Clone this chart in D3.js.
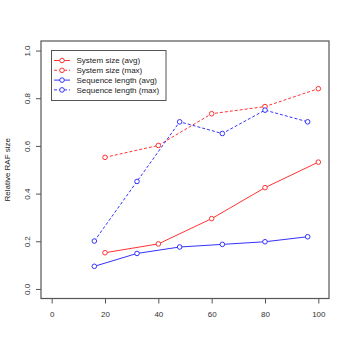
<!DOCTYPE html>
<html>
<head>
<meta charset="utf-8">
<script src="https://cdn.jsdelivr.net/npm/d3@7"></script>
<style>
  body { margin: 0; background: #fff; }
  svg { font-family: "Liberation Sans", Arial, sans-serif; }
</style>
</head>
<body>
<script>
    'use strict';

    // values
    var sysX = [20, 40, 60, 80, 100];
    var sysAvg = [0.152, 0.189, 0.295, 0.425, 0.532];
    var sysMax = [0.552, 0.602, 0.735, 0.765, 0.840];
    var seqX = [16, 32, 48, 64, 80, 96];
    var seqAvg = [0.095, 0.149, 0.176, 0.187, 0.198, 0.219];
    var seqMax = [0.201, 0.451, 0.701, 0.652, 0.750, 0.701];
    var xTicks = [0, 20, 40, 60, 80, 100];
    var yTicks = [0.0, 0.2, 0.4, 0.6, 0.8, 1.0];
    var seriesNames = ['System size (avg)', 'System size (max)',
                       'Sequence length (avg)', 'Sequence length (max)'];

    var series = [
        {name: seriesNames[0], xs: sysX, ys: sysAvg, color: '#ff3333', dash: null},
        {name: seriesNames[1], xs: sysX, ys: sysMax, color: '#ff3333', dash: '3,2'},
        {name: seriesNames[2], xs: seqX, ys: seqAvg, color: '#3333ff', dash: null},
        {name: seriesNames[3], xs: seqX, ys: seqMax, color: '#3333ff', dash: '3,2'}
    ];

    var W = 350, H = 350;
    var box = {left: 41, right: 329, top: 41, bottom: 298.5};

    var svg = d3.select('body').append('svg')
        .attr('width', W).attr('height', H);

    var scale_x = d3.scaleLinear().domain([-4, 104]).range([box.left, box.right]);
    var scale_y = d3.scaleLinear().domain([-0.04, 1.04]).range([box.bottom, box.top]);

    var axisColor = '#555';

    // x axis
    var ax = svg.append('g')
        .attr('transform', 'translate(0,' + box.bottom + ')')
        .call(d3.axisBottom(scale_x).tickValues(xTicks).tickSize(5).tickPadding(8)
              .tickFormat(d3.format('d')));
    ax.select('.domain').remove();
    ax.selectAll('line').attr('stroke', axisColor);
    ax.selectAll('text').attr('fill', '#333').style('font-size', '8px');

    // y axis, labels rotated like base R
    var ay = svg.append('g')
        .attr('transform', 'translate(' + box.left + ',0)')
        .call(d3.axisLeft(scale_y).tickValues(yTicks).tickSize(5)
              .tickFormat(d3.format('.1f')));
    ay.select('.domain').remove();
    ay.selectAll('line').attr('stroke', axisColor);
    ay.selectAll('text')
        .attr('fill', '#333')
        .style('font-size', '8px')
        .attr('x', null).attr('dy', null)
        .attr('text-anchor', 'middle')
        .attr('transform', 'translate(-11,0) rotate(-90)');

    svg.append('text')
        .attr('text-anchor', 'middle')
        .attr('transform', 'translate(10,' + ((box.top + box.bottom) / 2) + ') rotate(-90)')
        .style('font-size', '8px')
        .attr('fill', '#222')
        .text('Relative RAF size');

    var line = d3.line()
        .x(function(d) { return scale_x(d[0]); })
        .y(function(d) { return scale_y(d[1]); });

    series.forEach(function(s) {
        var pts = s.xs.map(function(x, i) { return [x, s.ys[i]]; });
        svg.append('path')
            .attr('d', line(pts))
            .attr('fill', 'none')
            .attr('stroke', s.color)
            .attr('stroke-width', 1)
            .attr('stroke-dasharray', s.dash);
        svg.append('g').selectAll('circle')
            .data(pts).enter().append('circle')
            .attr('cx', function(d) { return scale_x(d[0]); })
            .attr('cy', function(d) { return scale_y(d[1]); })
            .attr('r', 2.3)
            .attr('fill', '#fff')
            .attr('stroke', s.color)
            .attr('stroke-width', 1);
    });

    // plot frame
    svg.append('rect')
        .attr('x', box.left).attr('y', box.top)
        .attr('width', box.right - box.left).attr('height', box.bottom - box.top)
        .attr('fill', 'none').attr('stroke', axisColor).attr('stroke-width', 1.2);

    // legend
    var lg = svg.append('g');
    lg.append('rect')
        .attr('x', 51.5).attr('y', 50.5).attr('width', 114.5).attr('height', 50)
        .attr('fill', '#fff').attr('stroke', axisColor).attr('stroke-width', 1);
    series.forEach(function(s, i) {
        var y = 60.5 + i * 9.8;
        lg.append('line')
            .attr('x1', 54).attr('x2', 70).attr('y1', y).attr('y2', y)
            .attr('stroke', s.color).attr('stroke-dasharray', s.dash);
        lg.append('circle')
            .attr('cx', 62).attr('cy', y).attr('r', 2.3)
            .attr('fill', '#fff').attr('stroke', s.color);
        lg.append('text')
            .attr('x', 76.5).attr('y', y).attr('dy', '0.35em')
            .style('font-size', '8px').attr('fill', '#222')
            .text(s.name);
    });
</script>
</body>
</html>
